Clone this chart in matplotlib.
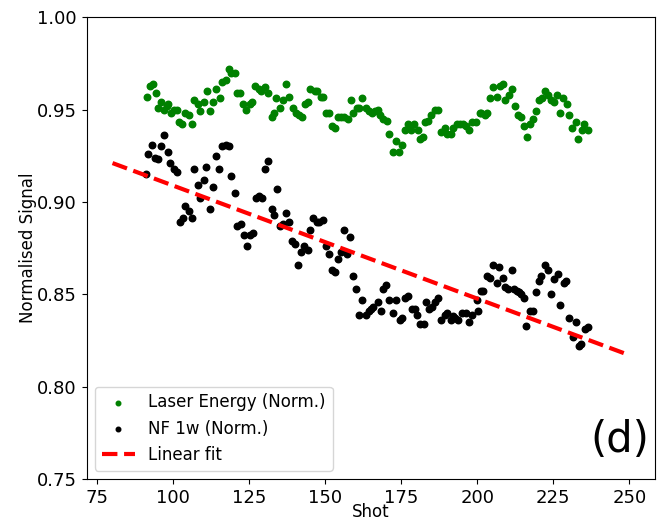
import matplotlib
matplotlib.use("Agg")
import matplotlib.pyplot as plt

# laser energy (normalised)
laser_shot = [91.2, 92.3, 93.2, 94.3, 95.0, 96.1, 96.8, 97.9, 98.3, 99.2,
              100.1, 101.2, 102.0, 102.9, 103.9, 105.1, 106.0, 106.9, 108.0, 108.9,
              110.0, 111.0, 112.0, 113.2, 114.1, 115.2, 116.1, 117.2, 118.2, 119.1,
              120.2, 120.9, 122.0, 122.9, 124.0, 125.3, 126.0, 127.0, 128.1, 129.0,
              130.1, 131.0, 132.3, 133.0, 133.9, 135.0, 136.1, 137.2, 138.1, 139.2,
              140.3, 141.4, 142.2, 143.3, 144.2, 144.9, 146.6, 147.1, 148.5, 149.3,
              150.2, 151.3, 152.1, 153.2, 154.1, 155.2, 156.3, 157.4, 158.4, 159.0,
              160.3, 161.2, 162.1, 163.4, 164.4, 165.3, 166.4, 167.3, 168.1, 168.9,
              170.3, 171.0, 172.1, 173.2, 174.1, 175.3, 176.1, 177.2, 178.3, 179.3,
              180.4, 181.0, 182.2, 182.9, 183.8, 184.9, 186.0, 187.1, 188.1, 189.2,
              190.1, 191.2, 192.1, 193.2, 194.3, 195.4, 196.4, 197.3, 198.4, 199.7,
              200.9, 201.3, 202.4, 203.3, 204.2, 205.2, 206.4, 207.4, 208.3, 209.1,
              210.3, 211.3, 212.3, 213.4, 214.3, 215.2, 216.2, 217.4, 218.4, 219.3,
              220.3, 221.2, 222.3, 223.1, 224.2, 225.3, 226.2, 227.3, 228.3, 229.4,
              230.3, 231.2, 232.5, 233.2, 234.3, 235.2, 236.3]
laser_val = [0.957, 0.963, 0.964, 0.959, 0.951, 0.954, 0.950, 0.952, 0.953, 0.948,
             0.950, 0.950, 0.943, 0.942, 0.948, 0.947, 0.942, 0.955, 0.953, 0.949,
             0.954, 0.960, 0.949, 0.954, 0.961, 0.956, 0.965, 0.966, 0.972, 0.970,
             0.970, 0.959, 0.959, 0.953, 0.950, 0.953, 0.954, 0.963, 0.961, 0.960,
             0.962, 0.959, 0.946, 0.948, 0.956, 0.951, 0.955, 0.964, 0.957, 0.951,
             0.948, 0.947, 0.946, 0.953, 0.954, 0.961, 0.960, 0.960, 0.957, 0.957,
             0.948, 0.948, 0.941, 0.940, 0.946, 0.946, 0.946, 0.945, 0.955, 0.948,
             0.951, 0.951, 0.956, 0.951, 0.949, 0.948, 0.949, 0.950, 0.947, 0.945,
             0.944, 0.937, 0.927, 0.933, 0.927, 0.931, 0.939, 0.942, 0.939, 0.942,
             0.939, 0.934, 0.935, 0.943, 0.944, 0.947, 0.950, 0.950, 0.938, 0.940,
             0.937, 0.937, 0.940, 0.942, 0.942, 0.942, 0.941, 0.939, 0.943, 0.943,
             0.948, 0.948, 0.947, 0.948, 0.956, 0.962, 0.957, 0.963, 0.964, 0.955,
             0.958, 0.961, 0.952, 0.947, 0.946, 0.941, 0.935, 0.942, 0.945, 0.949,
             0.955, 0.956, 0.960, 0.958, 0.955, 0.954, 0.958, 0.948, 0.956, 0.953,
             0.947, 0.940, 0.943, 0.934, 0.939, 0.942, 0.939]

# NF 1w (normalised)
nf_shot = [91.0, 91.8, 93.0, 94.1, 94.8, 96.1, 96.8, 98.1, 99.0, 100.1,
           101.2, 102.3, 103.1, 104.0, 105.1, 106.2, 106.9, 108.0, 108.9, 110.0,
           110.8, 111.9, 113.2, 114.1, 115.0, 116.1, 117.2, 118.3, 119.1, 120.2,
           121.0, 122.1, 123.2, 124.1, 125.1, 126.2, 127.2, 128.2, 129.3, 130.1,
           131.0, 132.3, 133.0, 134.1, 135.2, 136.2, 137.2, 138.1, 139.1, 140.0,
           141.1, 141.9, 143.1, 144.2, 145.1, 146.0, 147.1, 148.0, 149.1, 150.2,
           151.2, 152.1, 153.2, 154.1, 155.2, 156.2, 157.1, 158.2, 159.1, 160.1,
           161.0, 162.1, 163.3, 164.2, 165.0, 165.8, 167.2, 168.4, 169.1, 170.1,
           171.0, 172.2, 173.1, 174.4, 175.2, 176.3, 177.1, 178.4, 179.4, 180.2,
           181.3, 182.5, 183.2, 184.2, 185.1, 186.1, 187.2, 188.2, 189.4, 190.0,
           191.2, 192.0, 192.8, 193.7, 195.1, 196.2, 197.1, 198.3, 199.8, 200.2,
           201.1, 201.9, 203.1, 204.2, 205.3, 206.4, 207.1, 208.3, 209.0, 210.1,
           211.3, 212.1, 213.0, 213.7, 214.5, 215.2, 216.0, 217.3, 218.2, 219.3,
           220.4, 221.1, 222.3, 223.1, 224.2, 225.3, 226.4, 227.3, 228.4, 229.3,
           230.3, 231.3, 232.5, 233.4, 234.1, 235.5, 236.4]
nf_val = [0.915, 0.926, 0.931, 0.924, 0.923, 0.930, 0.936, 0.927, 0.921, 0.918,
          0.916, 0.889, 0.891, 0.898, 0.895, 0.891, 0.918, 0.909, 0.902, 0.912,
          0.919, 0.896, 0.908, 0.925, 0.918, 0.930, 0.931, 0.930, 0.914, 0.905,
          0.887, 0.888, 0.882, 0.876, 0.882, 0.883, 0.902, 0.903, 0.902, 0.918,
          0.922, 0.896, 0.893, 0.907, 0.887, 0.888, 0.894, 0.889, 0.879, 0.877,
          0.866, 0.873, 0.876, 0.874, 0.885, 0.891, 0.889, 0.889, 0.890, 0.876,
          0.872, 0.863, 0.862, 0.869, 0.873, 0.885, 0.872, 0.881, 0.860, 0.853,
          0.839, 0.847, 0.839, 0.841, 0.842, 0.843, 0.846, 0.841, 0.853, 0.855,
          0.847, 0.840, 0.847, 0.836, 0.837, 0.848, 0.849, 0.842, 0.842, 0.839,
          0.834, 0.834, 0.846, 0.842, 0.843, 0.846, 0.848, 0.836, 0.839, 0.840,
          0.836, 0.838, 0.837, 0.836, 0.840, 0.840, 0.835, 0.839, 0.847, 0.841,
          0.852, 0.852, 0.860, 0.859, 0.866, 0.856, 0.865, 0.859, 0.854, 0.853,
          0.863, 0.853, 0.852, 0.851, 0.850, 0.848, 0.833, 0.841, 0.841, 0.851,
          0.857, 0.860, 0.866, 0.863, 0.850, 0.858, 0.861, 0.844, 0.856, 0.857,
          0.837, 0.827, 0.835, 0.822, 0.823, 0.831, 0.832]

# linear fit end points
fit_shot = [80, 250]
fit_val = [0.921, 0.817]

fig = plt.figure(figsize=(6.72, 5.2), dpi=100)
ax = fig.add_axes([0.129, 0.079, 0.846, 0.888])

ax.scatter(laser_shot, laser_val, s=22, color='green', label="Laser Energy (Norm.)")
ax.scatter(nf_shot, nf_val, s=22, color='black', label="NF 1w (Norm.)")
ax.plot(fit_shot, fit_val, '--', color='red', linewidth=3, label="Linear fit")

ax.set_ylim(0.75, 1.0)
ax.set_xlabel("Shot", fontsize=12)
ax.xaxis.set_label_coords(0.5, -0.052)
ax.set_ylabel("Normalised Signal", fontsize=12)
ax.yaxis.set_label_coords(-0.088, 0.5)
ax.tick_params(labelsize=13)
ax.legend(loc='lower left', fontsize=12, markerscale=0.7)
ax.text(0.938, 0.084, "(d)", transform=ax.transAxes, fontsize=30,
        ha='center', va='center')

fig.savefig("out.png", dpi=100)
